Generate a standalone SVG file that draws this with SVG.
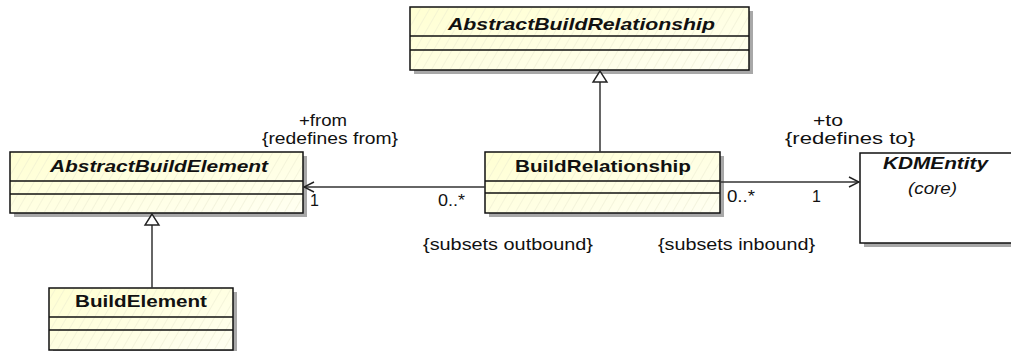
<svg xmlns="http://www.w3.org/2000/svg" width="1011" height="351" viewBox="0 0 1011 351">
<defs>
<linearGradient id="fillGrad" x1="0" y1="0" x2="1" y2="1">
<stop offset="0" stop-color="#FFFFD2"/>
<stop offset="1" stop-color="#FFFFF2"/>
</linearGradient>
<pattern id="hatch" width="8" height="8" patternUnits="userSpaceOnUse" patternTransform="rotate(30)">
<line x1="0" y1="0" x2="0" y2="8" stroke="#EAEAD0" stroke-width="1"/>
</pattern>
<marker id="openArrow" markerWidth="12" markerHeight="12" refX="11" refY="6" orient="auto" markerUnits="userSpaceOnUse">
<path d="M1,1 L11,6 L1,11" fill="none" stroke="#222" stroke-width="1.4"/>
</marker>
</defs>
<style>
.shadow{fill:#A8A8A8}
.cls{fill:url(#fillGrad);stroke:#111;stroke-width:1.5}
.hatch{fill:url(#hatch);stroke:none}
.sep{stroke:#111;stroke-width:1.5}
.title{font-family:"Liberation Sans",Arial,sans-serif;font-weight:bold;font-size:17px;fill:#111}
.ital{font-style:italic}
.lbl{font-family:"Liberation Sans",Arial,sans-serif;font-size:16px;fill:#111}
.conn{stroke:#333;stroke-width:1.5;fill:none}
</style>
<rect width="1011" height="351" fill="#fff"/>

<g id="AbstractBuildRelationship">
<rect class="shadow" x="414" y="11" width="339" height="63"/>
<rect class="cls" x="410" y="7" width="339" height="63"/>
<rect class="hatch" x="411" y="8" width="337" height="61"/>
<line class="sep" x1="410" y1="36" x2="749" y2="36"/>
<line class="sep" x1="410" y1="50" x2="749" y2="50"/>
<text class="title ital" x="448" y="30" textLength="267" lengthAdjust="spacingAndGlyphs">AbstractBuildRelationship</text>
</g>

<g id="AbstractBuildElement">
<rect class="shadow" x="14" y="156" width="293" height="61"/>
<rect class="cls" x="10" y="152" width="293" height="61"/>
<rect class="hatch" x="11" y="153" width="291" height="59"/>
<line class="sep" x1="10" y1="181" x2="303" y2="181"/>
<line class="sep" x1="10" y1="194" x2="303" y2="194"/>
<text class="title ital" x="50" y="172" textLength="218" lengthAdjust="spacingAndGlyphs">AbstractBuildElement</text>
</g>

<g id="BuildElement">
<rect class="shadow" x="53" y="292" width="184" height="62"/>
<rect class="cls" x="49" y="288" width="184" height="62"/>
<rect class="hatch" x="50" y="289" width="182" height="60"/>
<line class="sep" x1="49" y1="317" x2="233" y2="317"/>
<line class="sep" x1="49" y1="330" x2="233" y2="330"/>
<text class="title" x="75" y="307" textLength="132" lengthAdjust="spacingAndGlyphs">BuildElement</text>
</g>

<g id="BuildRelationship">
<rect class="shadow" x="489" y="156" width="235" height="61"/>
<rect class="cls" x="485" y="152" width="235" height="61"/>
<rect class="hatch" x="486" y="153" width="233" height="59"/>
<line class="sep" x1="485" y1="181" x2="720" y2="181"/>
<line class="sep" x1="485" y1="193" x2="720" y2="193"/>
<text class="title" x="515" y="172" textLength="176" lengthAdjust="spacingAndGlyphs">BuildRelationship</text>
</g>

<g id="KDMEntity">
<rect class="shadow" x="864" y="157" width="160" height="90"/>
<rect x="860" y="153" width="160" height="90" fill="#fff" stroke="#111" stroke-width="1.5"/>
<text class="title ital" x="883" y="169" textLength="105" lengthAdjust="spacingAndGlyphs">KDMEntity</text>
<text class="lbl ital" x="908" y="194" textLength="49" lengthAdjust="spacingAndGlyphs">(core)</text>
</g>

<g id="connectors">
<line class="conn" x1="600" y1="152" x2="600" y2="82"/>
<path d="M600,71 L593,82 L607,82 Z" fill="#fff" stroke="#222" stroke-width="1.4"/>
<line class="conn" x1="152" y1="288" x2="152" y2="225"/>
<path d="M152,214 L145,225 L159,225 Z" fill="#fff" stroke="#222" stroke-width="1.4"/>
<line class="conn" x1="485" y1="187" x2="304" y2="187" marker-end="url(#openArrow)"/>
<line class="conn" x1="720" y1="182" x2="859" y2="182" marker-end="url(#openArrow)"/>
</g>

<g id="labels">
<text class="lbl" x="299" y="126" textLength="48" lengthAdjust="spacingAndGlyphs">+from</text>
<text class="lbl" x="262" y="144" textLength="136" lengthAdjust="spacingAndGlyphs">{redefines from}</text>
<text class="lbl" x="310" y="206">1</text>
<text class="lbl" x="438" y="206" textLength="27" lengthAdjust="spacingAndGlyphs">0..*</text>
<text class="lbl" x="423" y="250" textLength="170" lengthAdjust="spacingAndGlyphs">{subsets outbound}</text>
<text class="lbl" x="658" y="250" textLength="157" lengthAdjust="spacingAndGlyphs">{subsets inbound}</text>
<text class="lbl" x="813" y="126" textLength="30" lengthAdjust="spacingAndGlyphs">+to</text>
<text class="lbl" x="785" y="144" textLength="130" lengthAdjust="spacingAndGlyphs">{redefines to}</text>
<text class="lbl" x="727" y="202" textLength="28" lengthAdjust="spacingAndGlyphs">0..*</text>
<text class="lbl" x="812" y="202">1</text>
</g>
</svg>
